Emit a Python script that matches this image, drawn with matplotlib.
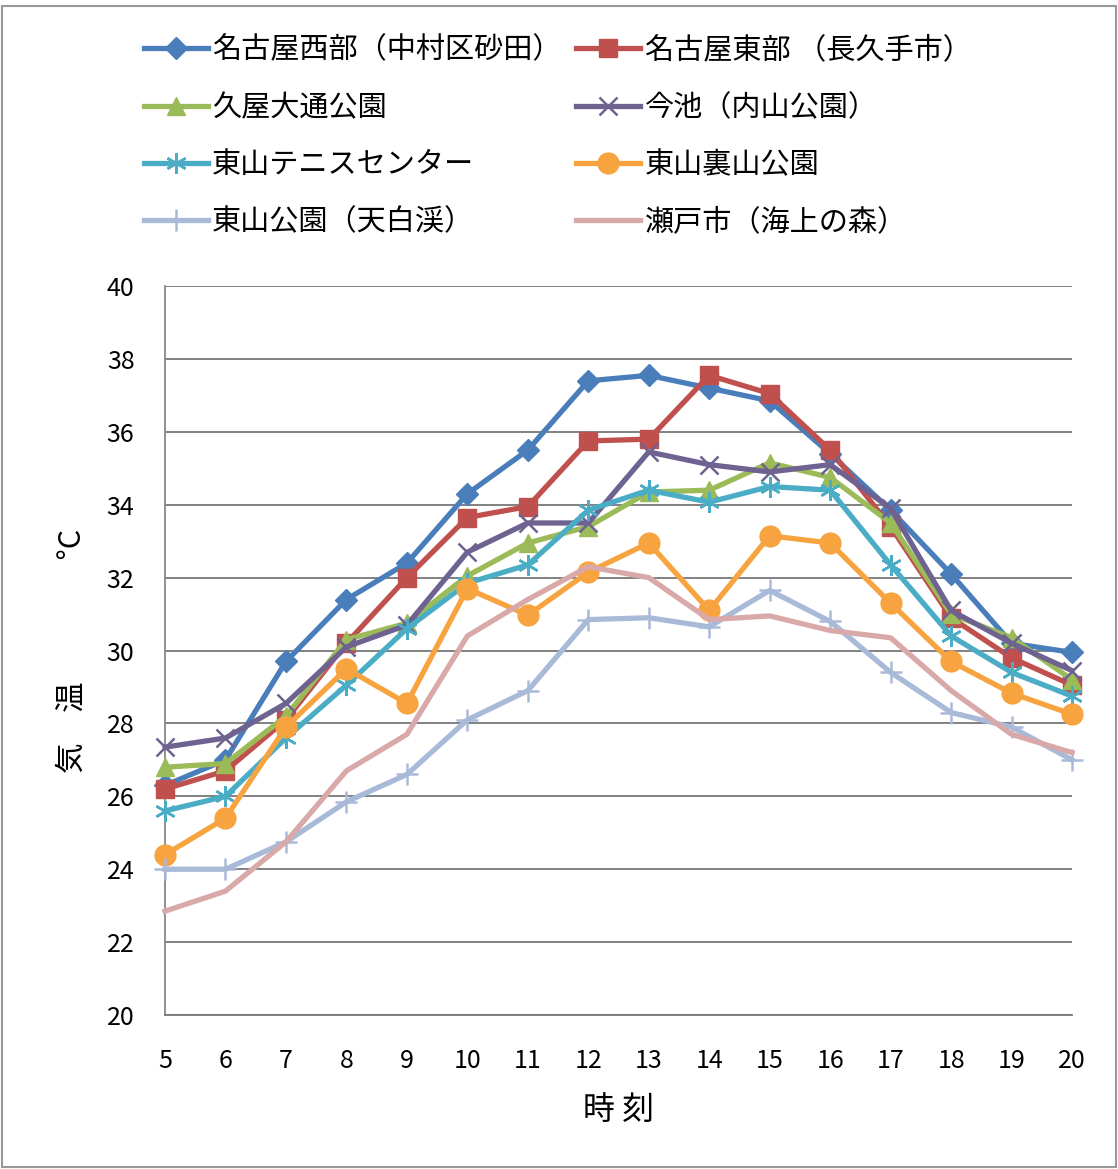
import matplotlib
matplotlib.use("Agg")
import matplotlib.pyplot as plt
from matplotlib.patches import Rectangle

plt.rcParams['font.family'] = ['Noto Sans CJK JP', 'DejaVu Sans']

hours = list(range(5, 21))

series_names = [
    "名古屋西部（中村区砂田）",
    "名古屋東部 （長久手市）",
    "久屋大通公園",
    "今池（内山公園）",
    "東山テニスセンター",
    "東山裏山公園",
    "東山公園（天白渓）",
    "瀬戸市（海上の森）",
]

nishi = [26.3, 27.0, 29.7, 31.4, 32.4, 34.3, 35.5, 37.4, 37.55, 37.2, 36.85, 35.4, 33.85, 32.1, 30.2, 29.95]
higashi = [26.2, 26.7, 28.1, 30.2, 32.0, 33.65, 33.95, 35.75, 35.8, 37.55, 37.05, 35.5, 33.4, 30.9, 29.8, 29.05]
hisaya = [26.8, 26.9, 28.2, 30.3, 30.75, 32.05, 32.95, 33.4, 34.35, 34.4, 35.15, 34.75, 33.5, 31.0, 30.35, 29.2]
imaike = [27.35, 27.6, 28.55, 30.1, 30.7, 32.7, 33.5, 33.5, 35.45, 35.1, 34.9, 35.1, 33.9, 31.1, 30.2, 29.45]
tennis = [25.6, 26.0, 27.6, 29.05, 30.6, 31.85, 32.35, 33.85, 34.4, 34.07, 34.5, 34.4, 32.35, 30.4, 29.4, 28.75]
urayama = [24.4, 25.4, 27.9, 29.5, 28.55, 31.7, 30.97, 32.15, 32.95, 31.1, 33.15, 32.95, 31.3, 29.7, 28.83, 28.25]
tenpaku = [24.0, 24.0, 24.75, 25.85, 26.6, 28.1, 28.9, 30.85, 30.9, 30.65, 31.65, 30.8, 29.4, 28.3, 27.9, 27.0]
seto = [22.85, 23.4, 24.75, 26.7, 27.7, 30.4, 31.4, 32.3, 32.0, 30.85, 30.95, 30.55, 30.35, 28.9, 27.7, 27.2]

y_ticks = [20, 22, 24, 26, 28, 30, 32, 34, 36, 38, 40]

all_series = [nishi, higashi, hisaya, imaike, tennis, urayama, tenpaku, seto]
colors = ["#4A7EBB", "#C0504D", "#9BBB59", "#6E6290", "#4BACC6", "#F7A440", "#A9BAD9", "#D9A9A9"]
markers = ["D", "s", "^", "x", (6, 2, 0), "o", "+", None]
msizes = [11, 13, 13, 13, 15, 15, 16, 0]

fig = plt.figure(figsize=(11.18, 11.69), dpi=100)
fig.patches.append(Rectangle((0.002, 0.002), 0.996, 0.993, transform=fig.transFigure,
                             fill=False, edgecolor="#999999", linewidth=1.5))
ax = fig.add_axes([0.1476, 0.1317, 0.8113, 0.6236])

handles = []
for name, vals, c, m, ms in zip(series_names, all_series, colors, markers, msizes):
    kw = dict(color=c, linewidth=3.8, label=name, clip_on=False, zorder=3)
    if m is not None:
        if m in ("x", "+") or isinstance(m, tuple):
            kw.update(marker=m, markersize=ms, markeredgewidth=1.8, markeredgecolor=c)
        else:
            kw.update(marker=m, markersize=ms, markeredgecolor=c, markerfacecolor=c)
    h, = ax.plot(hours, vals, **kw)
    handles.append(h)

ax.set_xlim(5, 20)
ax.set_ylim(20, 40)
ax.set_xticks(hours)
ax.set_yticks(y_ticks)
ax.tick_params(axis='x', labelsize=18, length=0, pad=24)
ax.tick_params(axis='y', labelsize=18, length=0, pad=22)
ax.grid(axis='y', color="#777777", linewidth=1.3)
ax.set_axisbelow(True)
for s in ["top", "right"]:
    ax.spines[s].set_visible(False)
ax.spines["left"].set_color("#888888")
ax.spines["bottom"].set_color("#777777")
ax.spines["left"].set_linewidth(1.3)
ax.spines["bottom"].set_linewidth(1.3)

ax.set_xlabel("時 刻", fontsize=23, labelpad=14)
ax.set_ylabel("気　温　　　　°C", fontsize=22, labelpad=14)

order = [0, 2, 4, 6, 1, 3, 5, 7]
fig.legend([handles[i] for i in order], [series_names[i] for i in order],
           loc="upper left", bbox_to_anchor=(0.105, 0.992), ncol=2, fontsize=21,
           frameon=False, handlelength=2.2, handletextpad=0.15, columnspacing=0.5,
           labelspacing=0.93)

fig.savefig("out.png", dpi=100, facecolor="white")
